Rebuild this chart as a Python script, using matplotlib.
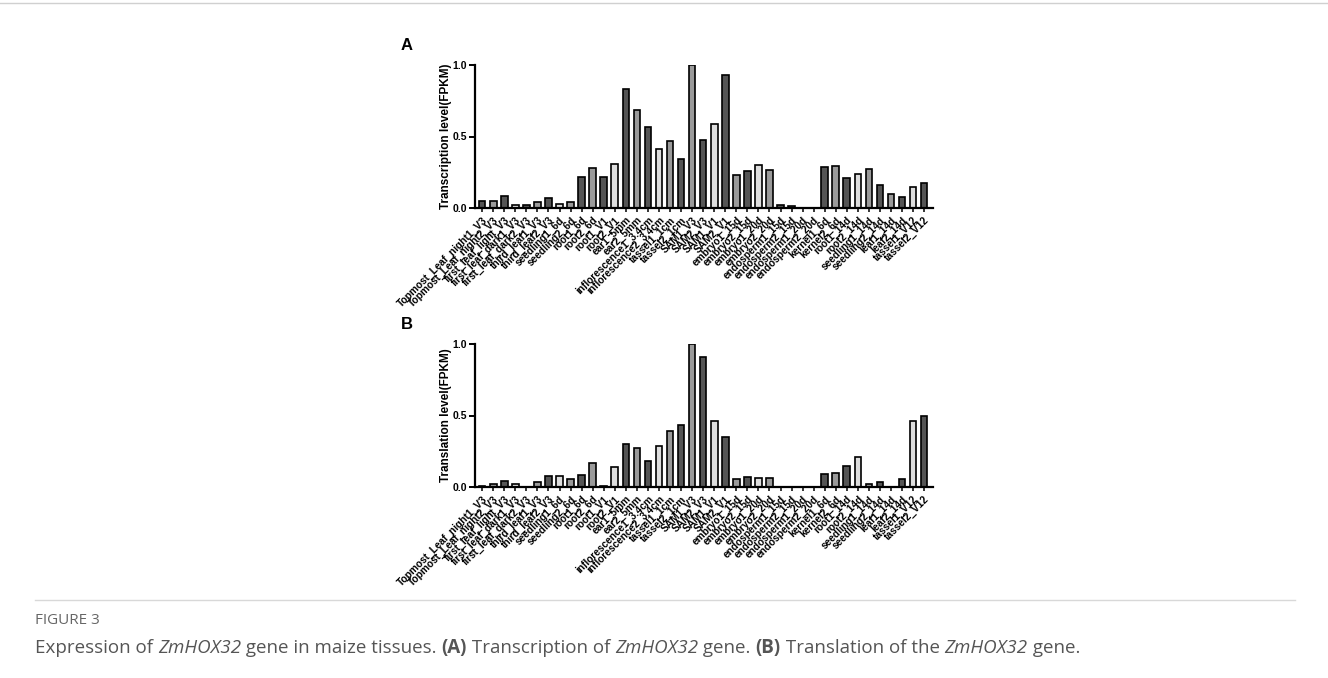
import matplotlib
matplotlib.use('Agg')
import matplotlib.pyplot as plt
from matplotlib.lines import Line2D

tissues = ['Topmost_Leaf_night1_V3', 'Topmost_Leaf_night2_V3', 'first_leaf_light_V3',
           'first_leaf_dark1_V3', 'first_leaf_dark2_V3', 'third_leaf1_V3', 'third_leaf2_V3',
           'seedling1_6d', 'seedling2_6d', 'root1_6d', 'root2_6d', 'root1_V1', 'root2_V1',
           'ear1_5mm', 'ear2_5mm', 'inflorescence1_3.4cm', 'inflorescence2_3.4cm',
           'tassel1_1cm', 'tassel2_1cm', 'SAM1_V3', 'SAM2_V3', 'SAM1_V1', 'SAM2_V1',
           'embryo1_15d', 'embryo2_15d', 'embryo1_20d', 'embryo2_20d',
           'endosperm1_15d', 'endosperm2_15d', 'endosperm1_20d', 'endosperm2_20d',
           'kernel1_6d', 'kernel2_6d', 'root1_14d', 'root2_14d',
           'seedling1_14d', 'seedling2_14d', 'leaf1_14d', 'leaf2_14d',
           'tassel1_V12', 'tassel2_V12']

transcription = [0.05, 0.05, 0.085, 0.02, 0.02, 0.045, 0.07, 0.03, 0.04,
                 0.22, 0.28, 0.215, 0.31, 0.835, 0.685, 0.565, 0.41, 0.47, 0.34,
                 1.0, 0.475, 0.585, 0.93, 0.232, 0.26, 0.30, 0.265,
                 0.022, 0.015, 0.0, 0.0, 0.29, 0.292, 0.21, 0.237,
                 0.27, 0.16, 0.096, 0.077, 0.15, 0.175]

translation = [0.008, 0.018, 0.04, 0.02, 0.0, 0.033, 0.075, 0.075, 0.055,
               0.085, 0.165, 0.008, 0.137, 0.30, 0.27, 0.18, 0.285, 0.39, 0.437,
               1.0, 0.91, 0.46, 0.35, 0.056, 0.07, 0.063, 0.063,
               0.0, 0.0, 0.0, 0.0, 0.09, 0.098, 0.147, 0.207,
               0.018, 0.035, 0.0, 0.058, 0.46, 0.495]

# fill shade of each column (GraphPad style greys)
D, M, L = '#555555', '#9a9a9a', '#dedede'
shades = [D, M, D, L, D, M, D, L, M, D, M, D, L, D, M, D, L, M, D, M, D,
          L, D, M, D, L, M, D, D, L, M, D, M, D, L, M, D, M, D, L, D]

plt.rcParams['font.family'] = ['Liberation Sans', 'DejaVu Sans']

W, H = 1328, 678
fig = plt.figure(figsize=(W / 100, H / 100), dpi=100)


def add_panel(y_top, y_bottom, values, ylabel, letter):
    ax = fig.add_axes([475 / W, 1 - y_bottom / H, (933 - 475) / W, (y_bottom - y_top) / H])
    x = range(len(tissues))
    ax.bar(x, values, width=0.6, color=shades, edgecolor='black', linewidth=1.2)
    ax.set_xlim(-0.65, len(tissues) - 0.2)
    ax.set_ylim(0, 1.0)
    ax.set_yticks([0, 0.5, 1.0])
    ax.set_yticklabels(['0.0', '0.5', '1.0'], fontsize=7.5, fontweight='bold')
    ax.set_xticks(list(x))
    ax.set_xticklabels(tissues, rotation=45, ha='right', rotation_mode='anchor',
                       fontsize=7.3, fontweight='bold')
    ax.tick_params(axis='x', length=3, width=1.1, pad=2)
    ax.tick_params(axis='y', length=4, width=1.4, pad=1.5)
    for s in ['top', 'right']:
        ax.spines[s].set_visible(False)
    for s in ['left', 'bottom']:
        ax.spines[s].set_linewidth(1.6)
    ax.set_ylabel(ylabel, fontsize=8.5, fontweight='bold', labelpad=0.5)
    fig.text(401 / W, 1 - (y_top - 20) / H, letter, fontsize=12, fontweight='bold',
             va='center', ha='left')
    return ax


add_panel(65, 208, transcription, 'Transcription level(FPKM)', 'A')
add_panel(344, 487, translation, 'Translation level(FPKM)', 'B')

# frame lines of the figure page
fig.add_artist(Line2D([0, 1], [1 - 3 / H, 1 - 3 / H], color='#d0d0d0', linewidth=1))
fig.add_artist(Line2D([35 / W, 1295 / W], [1 - 600 / H, 1 - 600 / H], color='#d8d8d8', linewidth=1))

fig.text(35 / W, 1 - 620 / H, 'FIGURE 3', fontsize=11, color='#666666', va='center',
         family='Open Sans')

# caption with mixed italic / bold pieces
pieces = [('Expression of ', 'normal', 'normal'), ('ZmHOX32', 'italic', 'normal'),
          (' gene in maize tissues. ', 'normal', 'normal'), ('(A)', 'normal', 'bold'),
          (' Transcription of ', 'normal', 'normal'), ('ZmHOX32', 'italic', 'normal'),
          (' gene. ', 'normal', 'normal'), ('(B)', 'normal', 'bold'),
          (' Translation of the ', 'normal', 'normal'), ('ZmHOX32', 'italic', 'normal'),
          (' gene.', 'normal', 'normal')]
renderer = fig.canvas.get_renderer()
xpos = 35 / W
for txt, style, weight in pieces:
    t = fig.text(xpos, 1 - 648 / H, txt, fontsize=13.5, color='#555555', va='center',
                 family='Open Sans', style=style, fontweight=weight)
    bb = t.get_window_extent(renderer=renderer)
    xpos += bb.width / W

fig.savefig('out.png', dpi=100)
